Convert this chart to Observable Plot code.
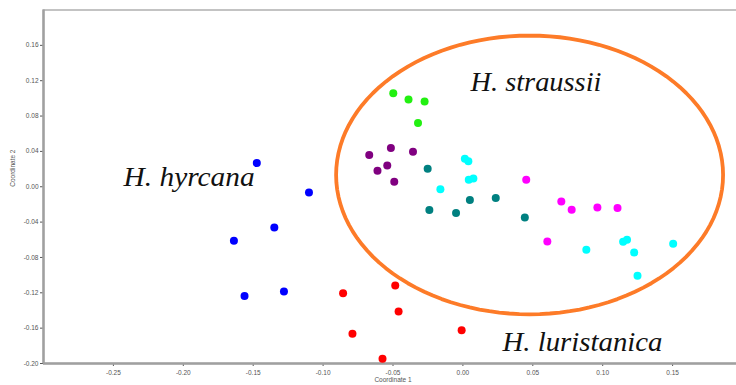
<!DOCTYPE html>
<html>
<head>
<meta charset="utf-8">
<script src="https://cdn.jsdelivr.net/npm/d3@7"></script>
<script src="https://cdn.jsdelivr.net/npm/@observablehq/plot@0.6"></script>
<style>
  html, body { margin: 0; padding: 0; background: #fff; overflow: hidden; width: 736px; height: 385px; }
  #chart svg { max-width: none !important; display: block; }
</style>
</head>
<body>
<div id="chart"></div>
<script>
// ---- data ----
const groupNames = ["Group 1", "Group 2", "Group 3", "Group 4", "Group 5", "Group 6", "Group 7"];
const groupColors = ["#0000ff", "#ff0000", "#22f011", "#800080", "#008080", "#00ffff", "#ff00ff"];

const group1X = [-0.1474, -0.1101, -0.1349, -0.1638, -0.1562, -0.1280];
const group1Y = [0.0269, -0.0065, -0.0461, -0.0612, -0.1235, -0.1186];

const group2X = [-0.0857, -0.0484, -0.0460, -0.0790, -0.0009, -0.0575];
const group2Y = [-0.1204, -0.1118, -0.1413, -0.1662, -0.1624, -0.1945];

const group3X = [-0.0498, -0.0389, -0.0274, -0.0321];
const group3Y = [0.1057, 0.0986, 0.0966, 0.0722];

const group4X = [-0.0670, -0.0515, -0.0357, -0.0541, -0.0611, -0.0491];
const group4Y = [0.0359, 0.0438, 0.0397, 0.0241, 0.0181, 0.0057];

const group5X = [-0.0252, -0.0240, -0.0049, 0.0050, 0.0235, 0.0443];
const group5Y = [0.0204, -0.0264, -0.0298, -0.0150, -0.0128, -0.0348];

const group6X = [0.0014, 0.0039, 0.0042, 0.0075, -0.0161, 0.0883, 0.1146, 0.1174, 0.1225, 0.1504, 0.1249];
const group6Y = [0.0317, 0.0289, 0.0079, 0.0094, -0.0028, -0.0714, -0.0623, -0.0600, -0.0744, -0.0646, -0.1008];

const group7X = [0.0453, 0.0704, 0.0778, 0.0962, 0.1106, 0.0604];
const group7Y = [0.0079, -0.0167, -0.0261, -0.0235, -0.0241, -0.0620];

const xTicks = [-0.25, -0.20, -0.15, -0.10, -0.05, 0.00, 0.05, 0.10, 0.15];
const yTicks = [-0.20, -0.16, -0.12, -0.08, -0.04, 0.00, 0.04, 0.08, 0.12, 0.16];

const speciesLabels = ["H. hyrcana", "H. straussii", "H. luristanica"];
const speciesLabelX = [-0.2427, 0.0054, 0.0283];
const speciesLabelY = [0.0011, 0.1088, -0.1858];

// ellipse annotation (center and radii in data units)
const ellipseCenter = [0.0477, 0.0134];
const ellipseRadii = [0.1384, 0.1577];

// ---- build tables ----
const seriesX = [group1X, group2X, group3X, group4X, group5X, group6X, group7X];
const seriesY = [group1Y, group2Y, group3Y, group4Y, group5Y, group6Y, group7Y];
const points = [];
groupNames.forEach((g, gi) => {
  seriesX[gi].forEach((x, i) => points.push({group: g, x, y: seriesY[gi][i]}));
});
const labels = speciesLabels.map((t, i) => ({text: t, x: speciesLabelX[i], y: speciesLabelY[i]}));
const ellipsePts = d3.range(0, 121).map(i => {
  const a = (i / 120) * 2 * Math.PI;
  return {x: ellipseCenter[0] + ellipseRadii[0] * Math.cos(a), y: ellipseCenter[1] + ellipseRadii[1] * Math.sin(a)};
});

const fmt = d => d.toFixed(2);

const chart = Plot.plot({
  width: 745,
  height: 385,
  marginLeft: 43,
  marginRight: 3,
  marginTop: 9.5,
  marginBottom: 22,
  style: {fontFamily: "'Liberation Sans', Arial, sans-serif", fontSize: "6.5px", color: "#555", background: "#fff", overflow: "visible", maxWidth: "none"},
  x: {domain: [-0.30, 0.20], ticks: xTicks, tickFormat: fmt, tickSize: 3, tickPadding: 4, label: null},
  y: {domain: [-0.20, 0.20], ticks: yTicks, tickFormat: fmt, tickSize: 3, tickPadding: 2, label: null},
  color: {domain: groupNames, range: groupColors},
  marks: [
    Plot.frame({stroke: "#b0b0b0", strokeWidth: 1.5}),
    Plot.ruleX([-0.30], {stroke: "#a0a0a0", strokeWidth: 2.5}),
    Plot.ruleY([-0.20], {stroke: "#a0a0a0", strokeWidth: 2.5}),
    Plot.line(ellipsePts, {x: "x", y: "y", curve: "linear-closed", stroke: "#fd7b28", strokeWidth: 3.8}),
    Plot.dot(points, {x: "x", y: "y", fill: "group", r: 4}),
    Plot.text(labels, {x: "x", y: "y", text: "text", textAnchor: "start", lineAnchor: "bottom", fontFamily: "'Liberation Serif', 'DejaVu Serif', serif", fontStyle: "italic", fontSize: 28, fill: "#111"}),
    Plot.text(["Coordinate 1"], {frameAnchor: "bottom", dy: 18, fontSize: 6.5, fill: "#555"}),
    Plot.text(["Coordinate 2"], {frameAnchor: "left", dx: -31, rotate: -90, fontSize: 6.5, fill: "#555"})
  ]
});
document.getElementById("chart").appendChild(chart);

// match the rendered width of the italic species labels to the reference typeface
const labelWidths = {"H. hyrcana": 131, "H. straussii": 131, "H. luristanica": 160};
chart.querySelectorAll("text").forEach(t => {
  const w = labelWidths[t.textContent];
  if (w) { t.setAttribute("textLength", w); t.setAttribute("lengthAdjust", "spacingAndGlyphs"); }
});
</script>
</body>
</html>
